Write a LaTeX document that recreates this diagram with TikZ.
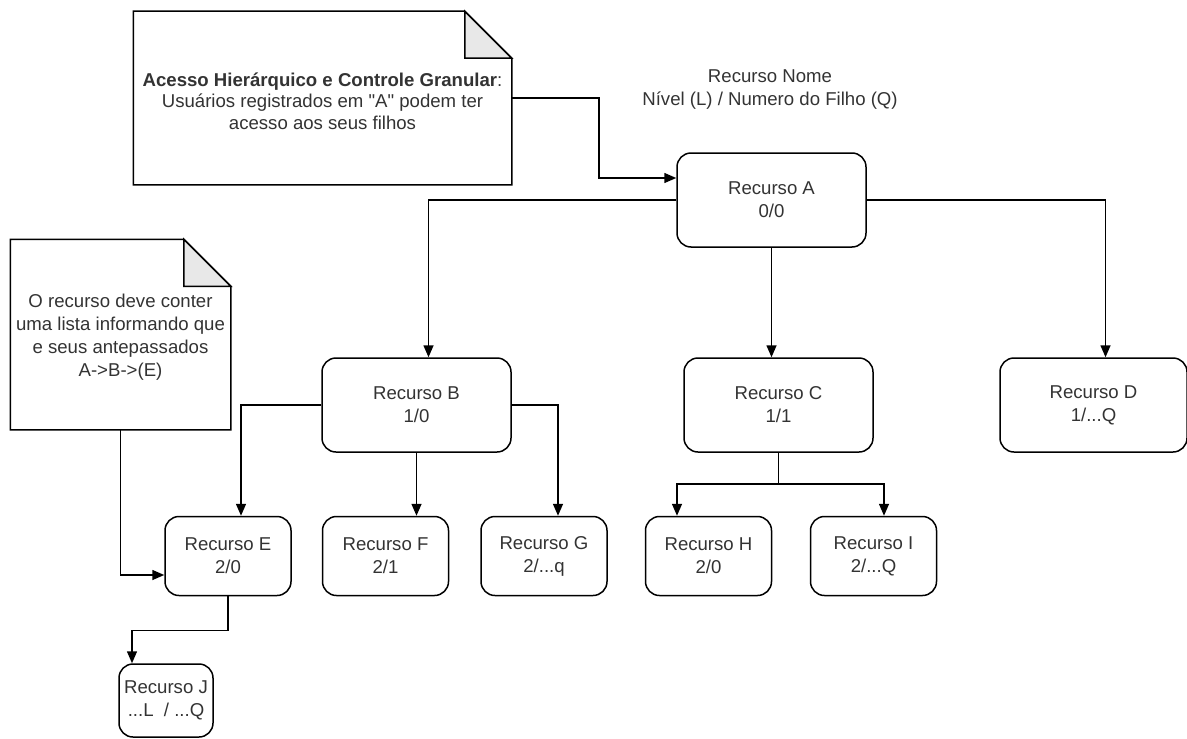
\documentclass[tikz,border=0pt]{standalone}
\usepackage{fontspec}
\setmainfont{Liberation Sans}[Ligatures=TeXOff]
\usetikzlibrary{arrows.meta}

\begin{document}
\begin{tikzpicture}[x=0.5pt,y=-0.5pt,>={Triangle[length=6pt,width=5pt]},line width=0.75pt,
  recurso/.style={draw, rounded corners=7pt, align=center, text=black!80, inner sep=0pt,
    font=\fontsize{9.3}{11.5}\selectfont},
  grande/.style={recurso, minimum width=94.5pt, minimum height=47pt},
  pequeno/.style={recurso, minimum width=63pt, minimum height=39.5pt},
  nota/.style={align=center, text=black!80, inner sep=0pt, font=\fontsize{9.3}{11.5}\selectfont}]
\useasboundingbox (0,0) rectangle (1187,738);

\node[grande] (A) at (771.5,200) {Recurso A\\0/0};
\node[grande] (B) at (416.5,405) {Recurso B\\1/0};
\node[grande] (C) at (778.5,405) {Recurso C\\1/1};
\node[grande, minimum width=93.5pt] (D) at (1093.5,405) {Recurso D\\1/...Q};
\node[pequeno] (E) at (228,556) {Recurso E\\2/0};
\node[pequeno] (F) at (385.5,556) {Recurso F\\2/1};
\node[pequeno] (G) at (544,556) {Recurso G\\2/...q};
\node[pequeno] (H) at (708.5,556) {Recurso H\\2/0};
\node[pequeno] (I) at (873.5,556) {Recurso I\\2/...Q};
\node[recurso, minimum width=47pt, minimum height=36.5pt] (J) at (166,700.5) {Recurso J\\...L~ / ...Q};
\node[nota] (legenda) at (770,90) {Recurso Nome\\Nível (L) / Numero do Filho (Q)};

% notas com canto dobrado
\node[nota, minimum width=188.5pt, minimum height=86pt] (nota1) at (322.5,98) {};
\node[nota, minimum width=109.5pt, minimum height=94.5pt] (nota2) at (120.5,334.5) {};
\foreach \n in {nota1,nota2} {
  \draw[fill=white] (\n.south west) |- ([xshift=-23.5pt]\n.north east) -- ([yshift=-23.5pt]\n.north east) |- cycle;
  \draw[fill=black!9] ([xshift=-23.5pt]\n.north east) |- ([yshift=-23.5pt]\n.north east) -- cycle;
}
\node[nota, font=\fontsize{9.3}{10.8}\selectfont] (texto1) at ([yshift=-1.5pt]nota1)
  {\textbf{Acesso Hierárquico e Controle Granular}:\\Usuários registrados em "A" podem ter\\acesso aos seus filhos};
\node[nota] (texto2) at ([yshift=-1.25pt]nota2) {O recurso deve conter\\uma lista informando que\\e seus antepassados\\A->B->(E)};

\draw[->] (nota1.east) -- ++(87,0) |- ([yshift=11pt]A.west);
\draw[->] (A.west) -| ([xshift=6pt]B.north);
\draw[->] (A.south) -- (A.south |- C.north);
\draw[->] (A.east) -| ([xshift=6pt]D.north);
\draw[->] (B.west) -| ([xshift=6.5pt]E.north);
\draw[->] (B.south) -- (B.south |- F.north);
\draw[->] (B.east) -| ([xshift=7pt]G.north);
\draw[->] (C.south) -- ++(0,31) -| ([xshift=-15.75pt]H.north);
\draw[->] (C.south) -- ++(0,31) -| ([xshift=5.25pt]I.north);
\draw[->] (E.south) -- ++(0,34) -| ([xshift=-17pt]J.north);
\draw[->] (nota2.south) |- ([yshift=-9.5pt]E.west);
\end{tikzpicture}
\end{document}
